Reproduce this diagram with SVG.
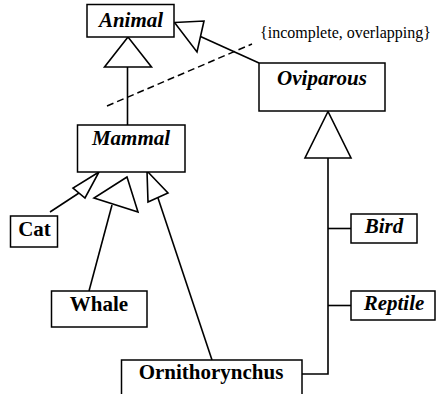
<svg xmlns="http://www.w3.org/2000/svg" width="436" height="394" viewBox="0 0 436 394">
  <style>
    .box { fill: #fff; stroke: #000; stroke-width: 1.5; }
    .name { font-size: 21px; font-weight: bold; text-anchor: middle; fill: #000; }
    .abstract { font-style: italic; }
    .edge { fill: none; stroke: #000; stroke-width: 1.6; }
    .head { fill: #fff; stroke: #000; stroke-width: 1.6; stroke-linejoin: miter; }
    .dash { fill: none; stroke: #000; stroke-width: 1.5; stroke-dasharray: 7 4; }
    .note { font-size: 16px; fill: #000; }
  </style>
  <rect width="436" height="394" fill="#fff"/>

  <!-- generalization connectors -->
  <g id="connectors">
    <!-- Mammal -> Animal -->
    <line class="edge" x1="127.5" y1="67" x2="127.5" y2="125"/>
    <polygon class="head" points="128,37 104.5,67 151.5,67"/>
    <!-- Oviparous -> Animal -->
    <line class="edge" x1="200.5" y1="36.5" x2="259" y2="63"/>
    <polygon class="head" points="174.5,22.5 204,21 197,52"/>
    <!-- generalization set constraint -->
    <line class="dash" x1="107" y1="106" x2="252" y2="44"/>
    <!-- Cat -> Mammal -->
    <line class="edge" x1="79" y1="193" x2="50" y2="212"/>
    <polygon class="head" points="99,172 73,188 85,198"/>
    <!-- Whale -> Mammal -->
    <line class="edge" x1="112" y1="205" x2="89" y2="291"/>
    <polygon class="head" points="127,177 94,198 138,212"/>
    <!-- Ornithorynchus -> Mammal -->
    <line class="edge" x1="158" y1="198" x2="212" y2="360"/>
    <polygon class="head" points="147,171 148,202 168,193"/>
    <!-- Bird, Reptile, Ornithorynchus -> Oviparous (shared tree) -->
    <polygon class="head" points="328,111.5 305,158 351,158"/>
    <polyline class="edge" points="328,158 328,374 302,374"/>
    <line class="edge" x1="328" y1="228.5" x2="351" y2="228.5"/>
    <line class="edge" x1="328" y1="305.5" x2="351" y2="305.5"/>
  </g>

  <g font-family="'Liberation Serif', 'DejaVu Serif', serif">
    <text class="note" x="260" y="38">{incomplete, overlapping}</text>

    <g id="animal">
      <rect class="box" x="87" y="4.5" width="87" height="32.5"/>
      <text class="name abstract" x="131" y="27">Animal</text>
    </g>
    <g id="oviparous">
      <rect class="box" x="259" y="63" width="126" height="48"/>
      <text class="name abstract" x="322" y="85">Oviparous</text>
    </g>
    <g id="mammal">
      <rect class="box" x="77.5" y="125" width="107.5" height="47"/>
      <text class="name abstract" x="131" y="145">Mammal</text>
    </g>
    <g id="cat">
      <rect class="box" x="10.5" y="216" width="47" height="31"/>
      <text class="name" x="34.5" y="236">Cat</text>
    </g>
    <g id="whale">
      <rect class="box" x="51.5" y="291" width="95.5" height="36"/>
      <text class="name" x="99" y="311">Whale</text>
    </g>
    <g id="ornithorynchus">
      <rect class="box" x="121.5" y="360" width="180.5" height="37"/>
      <text class="name" x="211" y="379">Ornithorynchus</text>
    </g>
    <g id="bird">
      <rect class="box" x="351" y="214" width="66" height="29"/>
      <text class="name abstract" x="384" y="233">Bird</text>
    </g>
    <g id="reptile">
      <rect class="box" x="351" y="291" width="84" height="29"/>
      <text class="name abstract" x="394" y="310">Reptile</text>
    </g>
  </g>
</svg>
